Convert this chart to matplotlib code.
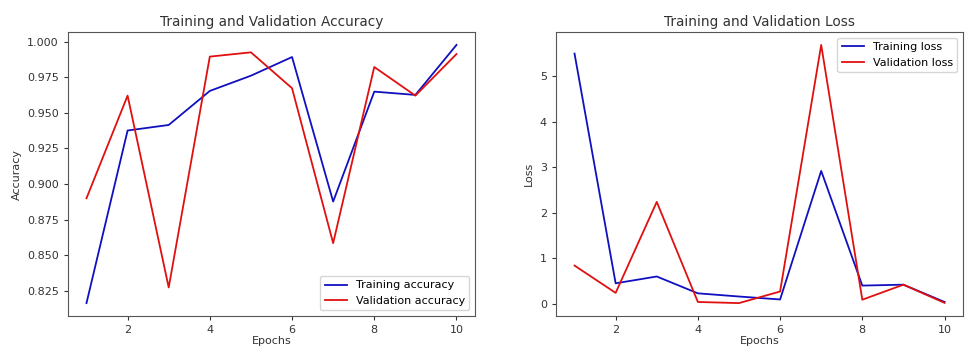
import matplotlib
matplotlib.use("Agg")
import matplotlib.pyplot as plt

epochs = [1, 2, 3, 4, 5, 6, 7, 8, 9, 10]
train_acc = [0.8164, 0.9376, 0.9415, 0.9654, 0.9761, 0.9892, 0.8877, 0.9649, 0.9626, 0.9977]
val_acc = [0.8900, 0.9621, 0.8274, 0.9895, 0.9925, 0.9673, 0.8585, 0.9822, 0.9621, 0.9913]
train_loss = [5.50, 0.45, 0.60, 0.23, 0.16, 0.095, 2.92, 0.40, 0.42, 0.04]
val_loss = [0.84, 0.24, 2.24, 0.04, 0.015, 0.27, 5.69, 0.09, 0.42, 0.02]

plt.rcParams['font.family'] = ['DejaVu Sans']
fig = plt.figure(figsize=(9.67, 3.47), dpi=100)
ax1 = fig.add_axes([0.0703, 0.0893, 0.4209, 0.8184])
ax2 = fig.add_axes([0.575, 0.0893, 0.4209, 0.8184])

tc = '#333333'
for ax in (ax1, ax2):
    ax.tick_params(labelsize=8, colors=tc, length=3, pad=3.5)
    for s in ax.spines.values():
        s.set_color('#555555')

ax1.plot(epochs, train_acc, color='#1010c0', lw=1.3, label='Training accuracy')
ax1.plot(epochs, val_acc, color='#e01010', lw=1.3, label='Validation accuracy')
ax1.set_title('Training and Validation Accuracy', fontsize=9.8, color=tc, pad=4)
ax1.set_xlabel('Epochs', fontsize=8, color=tc, labelpad=0.5)
ax1.set_ylabel('Accuracy', fontsize=8, color=tc, labelpad=4)
ax1.set_xticks([2, 4, 6, 8, 10])
ax1.legend(loc='lower right', fontsize=8)

ax2.plot(epochs, train_loss, color='#1010c0', lw=1.3, label='Training loss')
ax2.plot(epochs, val_loss, color='#e01010', lw=1.3, label='Validation loss')
ax2.set_title('Training and Validation Loss', fontsize=9.8, color=tc, pad=4)
ax2.set_xlabel('Epochs', fontsize=8, color=tc, labelpad=0.5)
ax2.set_ylabel('Loss', fontsize=8, color=tc, labelpad=4)
ax2.set_xticks([2, 4, 6, 8, 10])
ax2.legend(loc='upper right', fontsize=8)

fig.savefig('out.png', dpi=100)
